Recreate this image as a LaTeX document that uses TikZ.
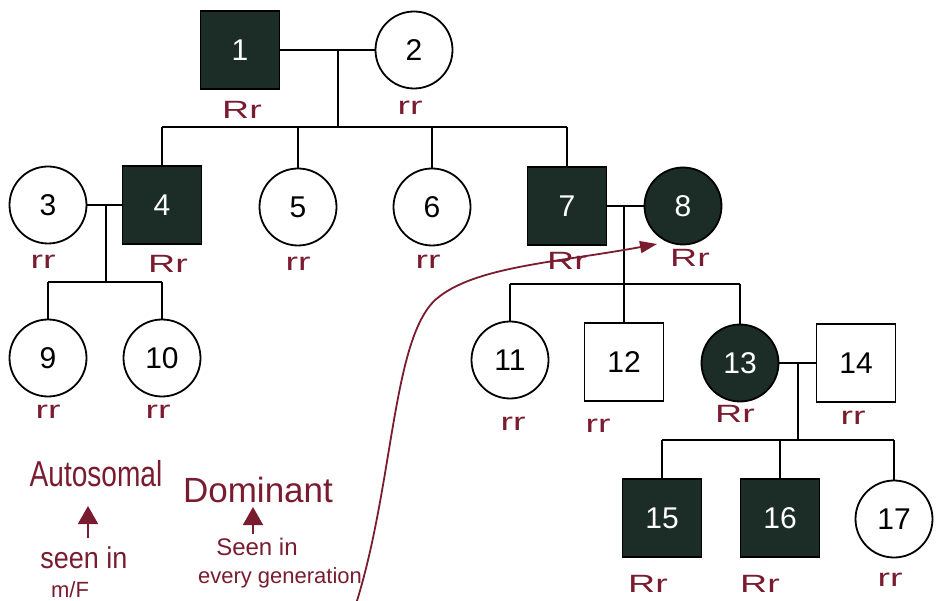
\documentclass[tikz,border=0pt]{standalone}
\usepackage{fontspec}
\setmainfont{Liberation Sans}
\usetikzlibrary{arrows.meta}

\definecolor{affected}{RGB}{28,44,38}
\definecolor{ink}{RGB}{122,28,48}
\newcommand{\wide}[1]{\scalebox{1.5}[1]{#1}}
\newcommand{\narrow}[1]{\scalebox{0.78}[1]{#1}}

\begin{document}
\begin{tikzpicture}[x=1pt, y=-1pt,
    male/.style={rectangle, draw, line width=1.8pt, minimum width=79pt,
                 minimum height=78pt, inner sep=0pt, font=\fontsize{30}{30}\selectfont},
    female/.style={circle, draw, line width=1.8pt, minimum size=77pt,
                   inner sep=0pt, font=\fontsize{30}{30}\selectfont},
    aff/.style={fill=affected, text=white},
    link/.style={line width=2.6pt},
    geno/.style={text=ink, font=\fontsize{25}{25}\selectfont},
    note/.style={text=ink, align=center, inner sep=0pt},
    hand/.style={-{Triangle[length=18pt, width=20pt]}, ink, line width=1.8pt}
]
\useasboundingbox (0,0) rectangle (942,601);

% generation I
\node[male, aff] (p1)  at (240,50)  {1};
\node[female]    (p2)  at (414,50)  {2};
% generation II
\node[female]    (p3)  at (48,205)  {3};
\node[male, aff] (p4)  at (162,205) {4};
\node[female]    (p5)  at (298,207) {5};
\node[female]    (p6)  at (432,207) {6};
\node[male, aff] (p7)  at (567,206) {7};
\node[female, aff] (p8) at (683,206) {8};
% generation III
\node[female]    (p9)  at (48,358)  {9};
\node[female]    (p10) at (162,358) {10};
\node[female]    (p11) at (510,360) {11};
\node[male]      (p12) at (624,362) {12};
\node[female, aff] (p13) at (740,363) {13};
\node[male]      (p14) at (856,363) {14};
% generation IV
\node[male, aff] (p15) at (662,518) {15};
\node[male, aff] (p16) at (780,518) {16};
\node[female]    (p17) at (894,519) {17};

% couples and sibships
\coordinate (m1) at (338,50);  \coordinate (s1) at (338,127);
\coordinate (m2) at (106,205); \coordinate (s2) at (106,282);
\coordinate (m3) at (624,206); \coordinate (s3) at (624,284);
\coordinate (m4) at (798,363); \coordinate (s4) at (798,440);

\draw[link] (p1) -- (p2);
\draw[link] (m1) -- (s1);
\draw[link] (p4.north |- s1) -- (p7.north |- s1);
\foreach \c in {p4,p5,p6,p7}
    \draw[link] (\c.north) -- (\c.north |- s1);

\draw[link] (p3) -- (p4);
\draw[link] (m2) -- (s2);
\draw[link] (p9.north |- s2) -- (p10.north |- s2);
\foreach \c in {p9,p10}
    \draw[link] (\c.north) -- (\c.north |- s2);

\draw[link] (p7) -- (p8);
\draw[link] (m3) -- (s3);
\draw[link] (p11.north |- s3) -- (p13.north |- s3);
\foreach \c in {p11,p12,p13}
    \draw[link] (\c.north) -- (\c.north |- s3);

\draw[link] (p13) -- (p14);
\draw[link] (m4) -- (s4);
\draw[link] (p15.north |- s4) -- (p17.north |- s4);
\foreach \c in {p15,p16,p17}
    \draw[link] (\c.north) -- (\c.north |- s4);

% genotypes
\node[geno] (g1)  at (242,110) {\wide{Rr}};
\node[geno] (g2)  at (410,108) {\wide{rr}};
\node[geno] (g3)  at (43,262)  {\wide{rr}};
\node[geno] (g4)  at (168,264) {\wide{Rr}};
\node[geno] (g5)  at (298,264) {\wide{rr}};
\node[geno] (g6)  at (428,262) {\wide{rr}};
\node[geno] (g7)  at (567,261) {\wide{Rr}};
\node[geno] (g8)  at (690,258) {\wide{Rr}};
\node[geno] (g9)  at (48,412)  {\wide{rr}};
\node[geno] (g10) at (158,412) {\wide{rr}};
\node[geno] (g11) at (513,424) {\wide{rr}};
\node[geno] (g12) at (598,426) {\wide{rr}};
\node[geno] (g13) at (735,414) {\wide{Rr}};
\node[geno] (g14) at (853,418) {\wide{rr}};
\node[geno] (g15) at (648,584) {\wide{Rr}};
\node[geno] (g16) at (760,584) {\wide{Rr}};
\node[geno] (g17) at (890,580) {\wide{rr}};

% notes
\node[note, font=\fontsize{36}{36}\selectfont] (auto) at (96,474) {\narrow{Autosomal}};
\node[note, font=\fontsize{35}{35}\selectfont] (dom)  at (258,490) {Dominant};
\node[note, font=\fontsize{30}{30}\selectfont] (seen1) at (84,558) {\scalebox{0.9}[1]{seen in}};
\node[note, font=\fontsize{22}{22}\selectfont] (mf)   at (70,590) {m/F};
\node[note, font=\fontsize{24}{24}\selectfont] (seen2) at (257,547) {Seen in};
\node[note, font=\fontsize{22}{22}\selectfont] (every) at (280,578) {every generation};

\coordinate (a1) at (88,538);
\coordinate (a2) at (253,534);
\draw[hand] (a1) -- ++(0,-32);
\draw[hand] (a2) -- ++(0,-27);

\coordinate (tail) at (356,604);
\coordinate (tip) at (657,244);
\draw[hand, -{Triangle[length=17pt, width=12pt]}]
    (tail) .. controls (395,480) and (392,330) .. (440,296)
    .. controls (480,266) and (560,262) .. (tip);
\end{tikzpicture}
\end{document}
